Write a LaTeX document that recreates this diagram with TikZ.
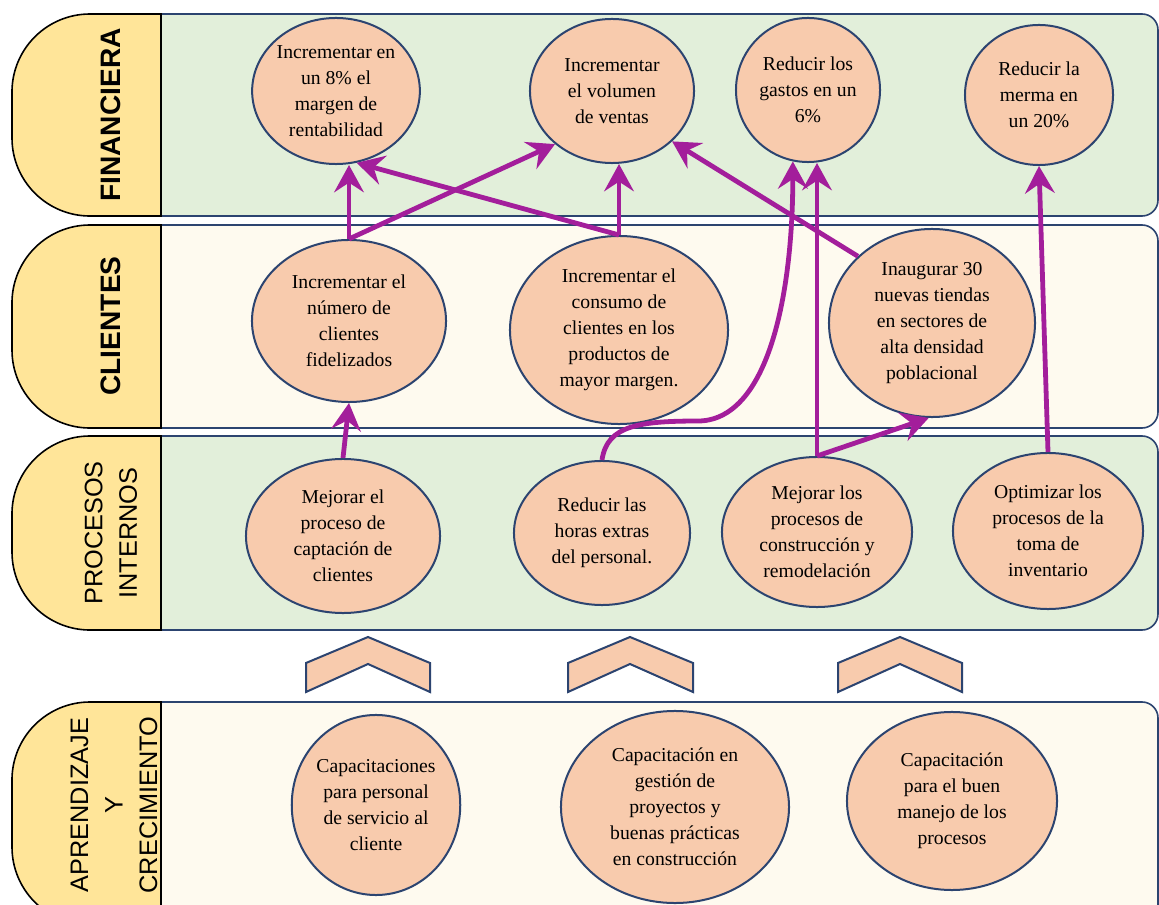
\documentclass[tikz,border=0pt]{standalone}
\usepackage{fontspec}
\setmainfont{Liberation Serif}
\newfontfamily\labfont{Liberation Sans}
\usetikzlibrary{shapes.geometric, arrows.meta, positioning}
\definecolor{verdeband}{RGB}{226,239,218}
\definecolor{cremaband}{RGB}{254,250,239}
\definecolor{amarillo}{RGB}{255,229,153}
\definecolor{salmon}{RGB}{248,203,173}
\definecolor{azulborde}{RGB}{44,68,112}
\definecolor{morado}{RGB}{163,30,155}
\tikzstyle{band} = [draw=azulborde, line width=0.04cm, rounded corners=0.4cm]
\tikzstyle{tab} = [draw=black, line width=0.04cm, fill=amarillo]
\tikzstyle{lab} = [rotate=90, align=center, font=\labfont\fontsize{18}{24.5}\selectfont]
\tikzstyle{obj} = [ellipse, draw=azulborde, line width=0.05cm, fill=salmon, inner sep=0pt, align=center, font=\fontsize{14}{18.5}\selectfont]
\tikzstyle{chev} = [draw=azulborde, line width=0.05cm, fill=salmon]
\tikzstyle{arrow} = [line width=0.12cm, draw=morado, -{Stealth[length=0.68cm, width=0.74cm, inset=0.24cm]}]
\begin{document}
\begin{tikzpicture}[x=0.025cm, y=-0.025cm]
\useasboundingbox (0,0) rectangle (1159,905);
\fill[white] (0,0) rectangle (1159,905);

\draw [band, fill=verdeband] (130,14) rectangle (1158,216);
\draw [band, fill=cremaband] (130,225) rectangle (1158,428);
\draw [band, fill=verdeband] (130,436) rectangle (1158,630);
\draw [band, fill=cremaband] (130,702) rectangle (1158,925);

\draw [tab] (161,14) -- (90,14) arc[start angle=90, end angle=180, radius=1.95cm] -- (12,138) arc[start angle=180, end angle=270, radius=1.95cm] -- (161,216) -- cycle;
\draw [tab] (161,225) -- (90,225) arc[start angle=90, end angle=180, radius=1.95cm] -- (12,350) arc[start angle=180, end angle=270, radius=1.95cm] -- (161,428) -- cycle;
\draw [tab] (161,436) -- (90,436) arc[start angle=90, end angle=180, radius=1.95cm] -- (12,552) arc[start angle=180, end angle=270, radius=1.95cm] -- (161,630) -- cycle;
\draw [tab] (161,702) -- (90,702) arc[start angle=90, end angle=180, radius=1.95cm] -- (12,847) arc[start angle=180, end angle=270, radius=1.95cm] -- (161,925) -- cycle;

\node (labfin) [lab, font=\labfont\bfseries\fontsize{20}{24}\selectfont] at (111,115) {FINANCIERA};
\node (labcli) [lab, font=\labfont\bfseries\fontsize{20}{24}\selectfont] at (111,326) {CLIENTES};
\node (labpro) [lab] at (111,533) {PROCESOS\\INTERNOS};
\node (labapr) [lab] at (114,805) {APRENDIZAJE\\Y\\CRECIMIENTO};

\draw [chev] (306,692) -- (306,663) -- (368,637) -- (430,663) -- (430,692) -- (368,664) -- cycle;
\draw [chev] (568,692) -- (568,663) -- (630,637) -- (693,663) -- (693,692) -- (630,664) -- cycle;
\draw [chev] (838,692) -- (838,663) -- (900,637) -- (962,663) -- (962,692) -- (900,664) -- cycle;

\node (e1) [obj, minimum width=4.15cm, minimum height=3.65cm] at (336,91) {Incrementar en\\un 8\% el\\margen de\\rentabilidad};
\node (e2) [obj, minimum width=4.1cm, minimum height=3.6cm] at (612,91) {Incrementar\\el volumen\\de ventas};
\node (e3) [obj, minimum width=3.6cm, minimum height=3.6cm] at (808,90) {Reducir los\\gastos en un\\6\%};
\node (e4) [obj, minimum width=3.7cm, minimum height=3.5cm] at (1039,95) {Reducir la\\merma en\\un 20\%};

\node (c1) [obj, minimum width=4.85cm, minimum height=4.05cm] at (349,321) {Incrementar el\\número de\\clientes\\fidelizados};
\node (c2) [obj, minimum width=5.45cm, minimum height=4.7cm] at (619,330) {Incrementar el\\consumo de\\clientes en los\\productos de\\mayor margen.};
\node (c3) [obj, minimum width=5.15cm, minimum height=4.7cm] at (932,323) {Inaugurar 30\\nuevas tiendas\\en sectores de\\alta densidad\\poblacional};

\node (p1) [obj, minimum width=4.85cm, minimum height=3.85cm] at (343,536) {Mejorar el\\proceso de\\captación de\\clientes};
\node (p2) [obj, minimum width=4.4cm, minimum height=3.6cm] at (602,533) {Reducir las\\horas extras\\del personal.};
\node (p3) [obj, minimum width=4.75cm, minimum height=3.75cm] at (817,532) {Mejorar los\\procesos de\\construcción y\\remodelación};
\node (p4) [obj, minimum width=4.75cm, minimum height=3.9cm] at (1048,531) {Optimizar los\\procesos de la\\toma de\\inventario};

\node (a1) [obj, minimum width=4.2cm, minimum height=4.5cm] at (376,805) {Capacitaciones\\para personal\\de servicio al\\cliente};
\node (a2) [obj, minimum width=5.7cm, minimum height=4.8cm] at (675,807) {Capacitación en\\gestión de\\proyectos y\\buenas prácticas\\en construcción};
\node (a3) [obj, minimum width=5.25cm, minimum height=4.45cm] at (952,801) {Capacitación\\para el buen\\manejo de los\\procesos};

\coordinate (curva) at (700,421);

\draw [arrow] (p1.north) -- (c1.south);
\draw [arrow] (c1.north) -- (c1.north |- e1.south);
\draw [arrow] (c1.north) -- (e2.-137);
\draw [arrow] (c2.north) -- (e1.-74);
\draw [arrow] (c2.north) -- (c2.north |- e2.south);
\draw [arrow] (c3.138) -- (e2.-40);
\draw [arrow] (p2.north) .. controls +(5,-35) and +(-60,0) .. (curva) .. controls +(70,-3) and +(0,128) .. (e3.-102);
\draw [arrow] (p3.north) -- (p3.north |- e3.south);
\draw [arrow] (p3.north) -- (c3.-92);
\draw [arrow] (p4.north) -- (e4.south);
\end{tikzpicture}
\end{document}
